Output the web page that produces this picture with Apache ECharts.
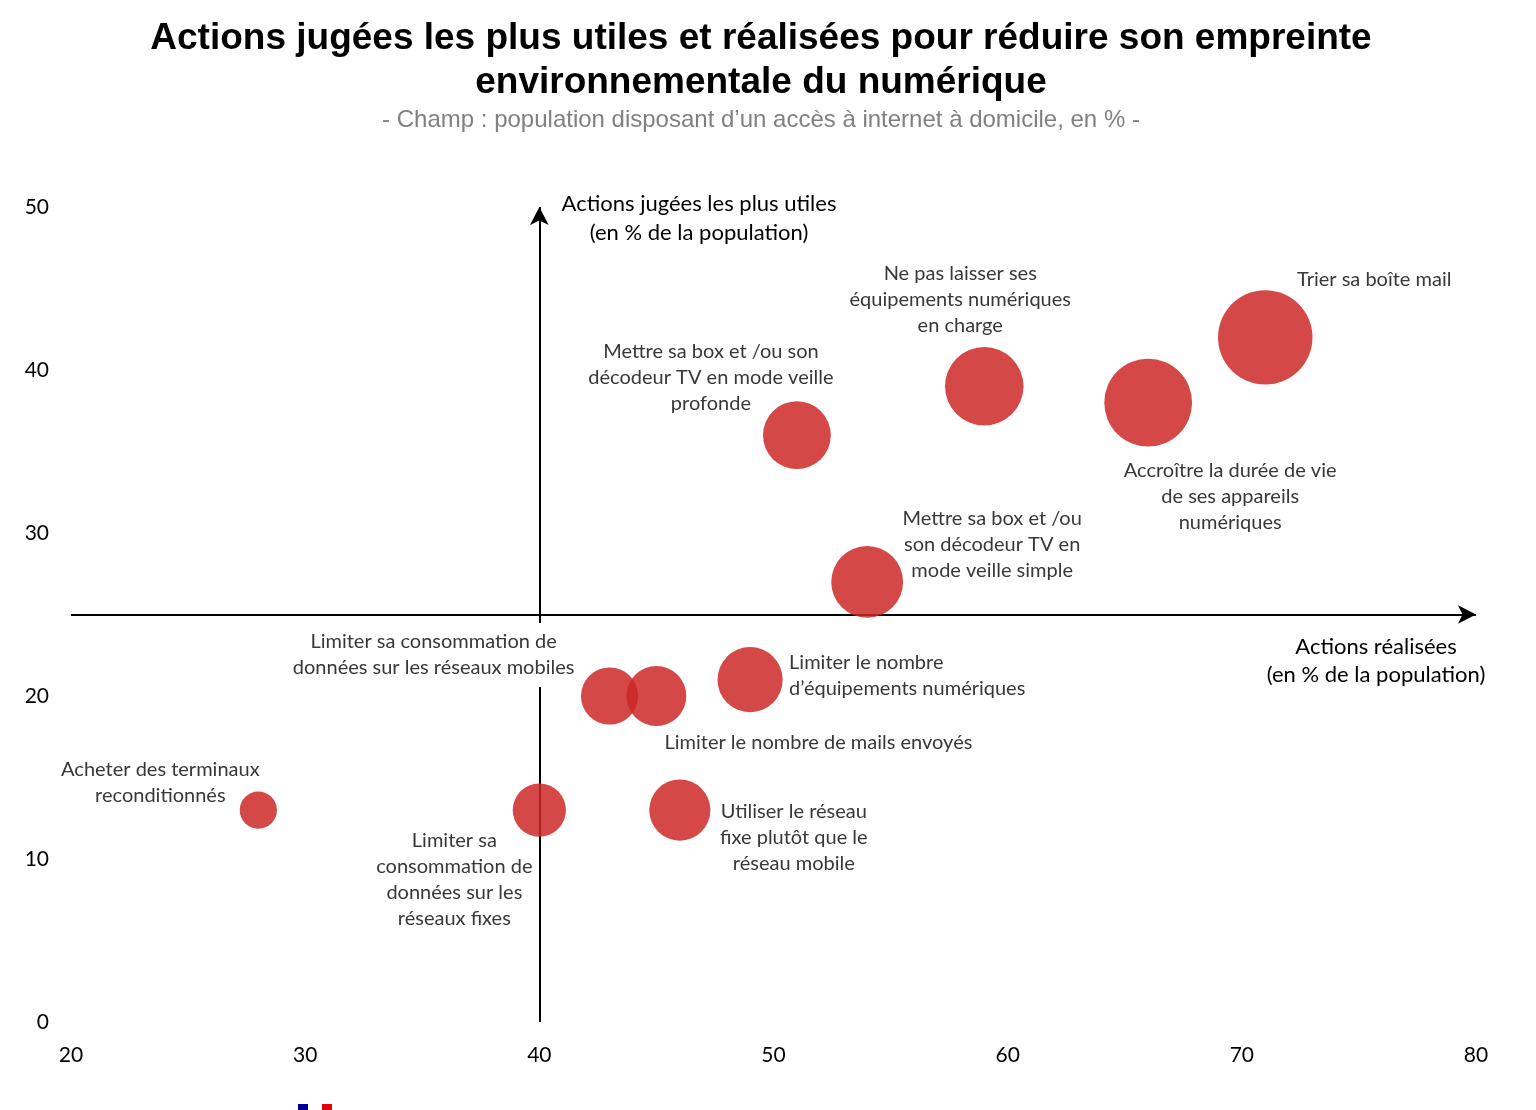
<!DOCTYPE html>
<html><head><meta charset="utf-8">
<script src="https://cdn.jsdelivr.net/npm/echarts@6/dist/echarts.min.js"></script>
<style>html,body{margin:0;padding:0;background:#fff}#c{width:1536px;height:1110px}</style>
</head><body><div id="c"></div>
<script>
// ---- data ----
const actionLabels = [
  'Trier sa boîte mail',
  'Accroître la durée de vie\nde ses appareils\nnumériques',
  'Ne pas laisser ses\néquipements numériques\nen charge',
  'Mettre sa box et /ou son\ndécodeur TV en mode veille\nprofonde',
  'Mettre sa box et /ou\nson décodeur TV en\nmode veille simple',
  'Limiter le nombre\nd’équipements numériques',
  'Limiter sa consommation de\ndonnées sur les réseaux mobiles',
  'Limiter le nombre de mails envoyés',
  'Utiliser le réseau\nfixe plutôt que le\nréseau mobile',
  'Limiter sa\nconsommation de\ndonnées sur les\nréseaux fixes',
  'Acheter des terminaux\nreconditionnés'
];
const actionsRealisees = [71, 66, 59, 51, 54, 49, 43, 45, 46, 40, 28];
const actionsUtiles    = [42, 38, 39, 36, 27, 21, 20, 20, 13, 13, 13];
const xTicks = [20, 30, 40, 50, 60, 70, 80];
const yTicks = [0, 10, 20, 30, 40, 50];

// ---- layout (label placement relative to bubble centre) ----
const labelPlace = [
  {offset: [109, -58], align: 'center'},
  {offset: [82, 94], align: 'center'},
  {offset: [-24, -87], align: 'center'},
  {offset: [-86, -58], align: 'center'},
  {offset: [125, -37], align: 'center'},
  {offset: [39, -4], align: 'left'},
  {offset: [-176, -41], align: 'center', bg: true},
  {offset: [162, 47], align: 'center'},
  {offset: [114, 27], align: 'center'},
  {offset: [-85, 69], align: 'center'},
  {offset: [-98, -28], align: 'center'}
];

const chart = echarts.init(document.getElementById('c'));
const points = actionsRealisees.map((x, i) => {
  const p = labelPlace[i];
  const lab = {
    show: true,
    position: 'inside',
    offset: p.offset,
    align: p.align,
    verticalAlign: 'middle',
    formatter: actionLabels[i],
    color: '#383838',
    fontFamily: 'Lato',
    fontSize: 20,
    lineHeight: 26
  };
  if (p.bg) { lab.backgroundColor = '#fff'; lab.padding = [6, 2]; }
  return {value: [x, actionsUtiles[i]], label: lab};
});

chart.setOption({
  animation: false,
  backgroundColor: '#fff',
  title: {
    text: 'Actions jugées les plus utiles et réalisées pour réduire son empreinte\nenvironnementale du numérique',
    subtext: '- Champ : population disposant d’un accès à internet à domicile, en % -',
    left: 756, textAlign: 'center', top: 12, itemGap: 3, padding: 5,
    textStyle: {fontFamily: 'Liberation Sans', fontWeight: 'bold', fontSize: 37, lineHeight: 44, color: '#000'},
    subtextStyle: {fontFamily: 'Liberation Sans', fontSize: 24, color: '#808080'}
  },
  grid: {left: 71, right: 60, top: 207, bottom: 88},
  xAxis: {
    type: 'value', min: xTicks[0], max: xTicks[xTicks.length - 1], interval: 10,
    axisLine: {show: false}, axisTick: {show: false}, splitLine: {show: false},
    axisLabel: {color: '#000', fontFamily: 'Lato', fontSize: 21, margin: 23,
      formatter: v => xTicks.includes(v) ? String(v) : ''}
  },
  yAxis: {
    type: 'value', min: yTicks[0], max: yTicks[yTicks.length - 1], interval: 10,
    axisLine: {show: false}, axisTick: {show: false}, splitLine: {show: false},
    axisLabel: {color: '#000', fontFamily: 'Lato', fontSize: 21, margin: 22,
      formatter: v => yTicks.includes(v) ? String(v) : ''}
  },
  graphic: [
    {type: 'text', x: 699, y: 218, silent: true, z: 10,
     style: {text: 'Actions jugées les plus utiles\n(en % de la population)', fill: '#000',
       font: '22px Lato', align: 'center', verticalAlign: 'middle', lineHeight: 29}},
    {type: 'text', x: 1376, y: 661, silent: true, z: 10,
     style: {text: 'Actions réalisées\n(en % de la population)', fill: '#000',
       font: '22px Lato', align: 'center', verticalAlign: 'middle', lineHeight: 28}},
    {type: 'rect', shape: {x: 298, y: 1104, width: 10, height: 6}, style: {fill: '#000091'}, silent: true},
    {type: 'rect', shape: {x: 310, y: 1104, width: 10, height: 6}, style: {fill: '#ffffff'}, silent: true},
    {type: 'rect', shape: {x: 322, y: 1104, width: 10, height: 6}, style: {fill: '#e1000f'}, silent: true}
  ],
  series: [
    {
      type: 'scatter', data: [], z: 1, silent: true,
      markLine: {
        z: 1, silent: true, symbol: ['none', 'arrow'], symbolSize: [14, 18],
        label: {show: false},
        lineStyle: {color: '#000', width: 2, type: 'solid'},
        emphasis: {disabled: true},
        data: [
          [{coord: [40, 0]}, {coord: [40, 50]}],
          [{coord: [20, 25]}, {coord: [80, 25]}]
        ]
      }
    },
    {
      type: 'scatter', z: 3,
      symbolSize: v => v[0] * 1.33,
      itemStyle: {color: 'rgba(205,40,40,0.85)', opacity: 1},
      emphasis: {disabled: true},
      data: points
    }
  ]
});
</script>
</body></html>
